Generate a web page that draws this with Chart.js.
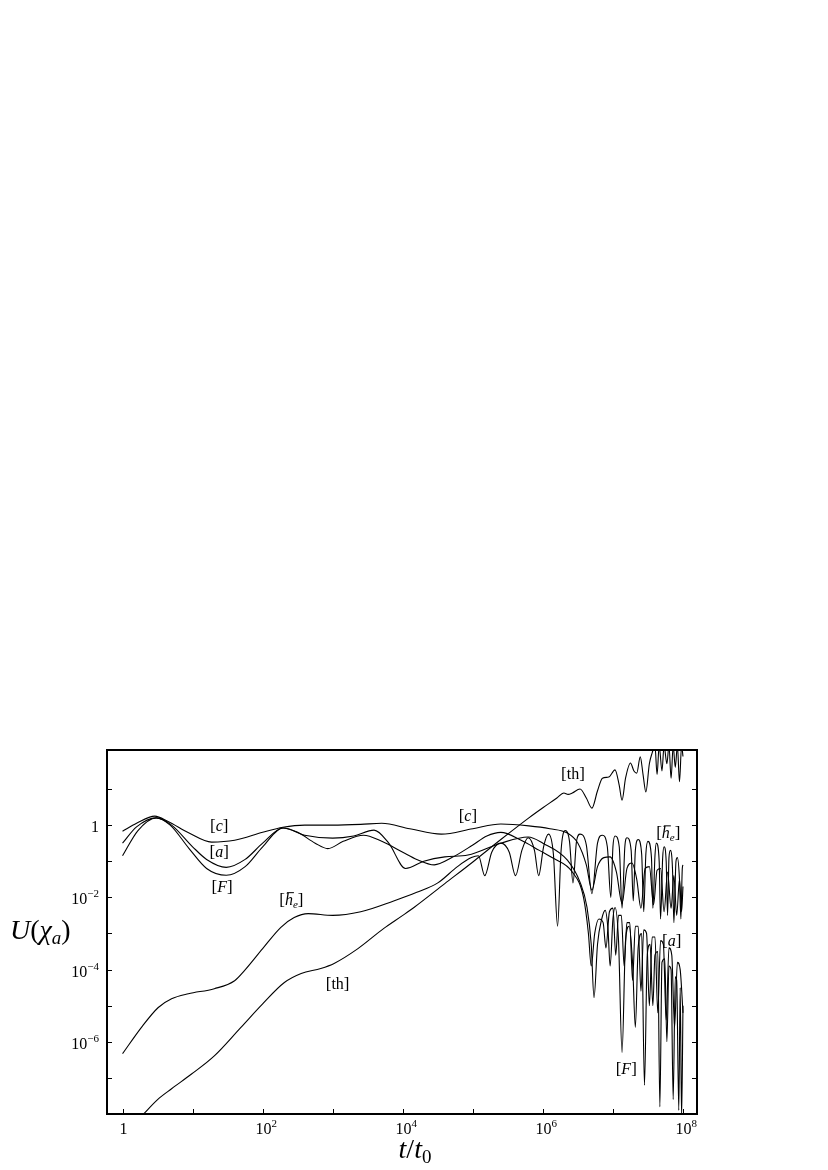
<!DOCTYPE html>
<html>
<head>
<meta charset="utf-8">
<script src="https://cdn.jsdelivr.net/npm/chart.js@4.4.0/dist/chart.umd.min.js"></script>
<style>
    html, body { margin: 0; padding: 0; background: #fff; }
    canvas { display: block; }
</style>
</head>
<body>
<canvas id="uChart" width="828" height="1170"></canvas>
<script>
// Each curve: [log10(t/t0), log10 U(chi_a)] pairs
const cCurve = [
    [0, -0.17], [0.2, 0.05], [0.46, 0.25], [0.65, 0.1], [0.95, -0.22], [1.27, -0.47], [1.6, -0.42],
    [2.0, -0.2], [2.29, -0.06], [2.6, 0], [3.0, 0], [3.4, 0.02], [3.7, 0.05], [4.1, -0.1], [4.55, -0.25],
    [5.0, -0.1], [5.4, 0.03], [5.8, -0.02], [6.1, -0.1], [6.35, -0.22], [6.5, -0.5], [6.62, -1.1],
    [6.7, -1.8], [6.78, -1.15], [6.87, -0.9], [6.96, -0.88], [7.05, -1.3], [7.13, -2.17], [7.2, -1.2],
    [7.27, -1.05], [7.34, -1.5], [7.4, -2.3], [7.46, -1.2], [7.52, -1.15], [7.58, -2.2], [7.63, -1.25],
    [7.68, -1.2], [7.73, -2.4], [7.78, -1.3], [7.83, -2.3], [7.87, -1.4], [7.91, -2.5], [7.95, -1.5],
    [7.98, -2.4], [8.0, -1.7]
];
const aCurve = [
    [0, -0.5], [0.2, -0.05], [0.48, 0.2], [0.7, 0.0], [1.0, -0.6], [1.2, -0.95], [1.48, -1.17],
    [1.75, -0.95], [2.0, -0.5], [2.29, -0.08], [2.5, -0.2], [2.75, -0.5], [2.93, -0.65], [3.15, -0.45],
    [3.44, -0.28], [3.7, -0.45], [4.0, -0.75], [4.2, -0.95], [4.45, -1.1], [4.7, -0.9], [5.0, -0.55],
    [5.2, -0.3], [5.4, -0.2], [5.69, -0.42], [5.95, -0.7], [6.15, -0.92], [6.42, -1.3], [6.58, -2.0],
    [6.65, -3.0], [6.69, -3.9], [6.74, -3.0], [6.8, -2.6], [6.86, -2.7], [6.9, -3.4], [6.95, -2.4],
    [7.0, -2.3], [7.04, -3.6], [7.08, -2.5], [7.12, -2.5], [7.16, -3.9], [7.2, -2.7], [7.24, -2.7],
    [7.28, -4.3], [7.32, -2.8], [7.36, -2.8], [7.4, -4.6], [7.44, -2.9], [7.48, -3.0], [7.52, -5.0],
    [7.56, -3.1], [7.6, -3.1], [7.64, -5.2], [7.68, -3.2], [7.72, -3.3], [7.76, -5.4], [7.8, -3.4],
    [7.84, -3.6], [7.88, -5.6], [7.92, -3.8], [7.96, -4.0], [8.0, -5.2]
];
const fCurve = [
    [0, -0.85], [0.22, -0.15], [0.48, 0.2], [0.68, 0.0], [0.95, -0.65], [1.2, -1.2], [1.48, -1.39],
    [1.75, -1.15], [2.0, -0.6], [2.29, -0.08], [2.6, -0.28], [3.0, -0.36], [3.3, -0.3], [3.59, -0.14],
    [3.8, -0.5], [4.04, -1.2], [4.3, -1.0], [4.6, -0.88], [4.93, -0.83], [5.4, -0.5], [5.79, -0.33],
    [6.0, -0.5], [6.35, -0.97], [6.53, -1.58], [6.63, -2.28], [6.69, -3.3], [6.73, -4.78], [6.78, -3.3],
    [6.84, -2.6], [6.89, -2.36], [6.93, -2.9], [6.96, -3.9], [7.0, -2.6], [7.03, -2.28], [7.08, -3.2],
    [7.13, -6.3], [7.18, -3.2], [7.23, -2.8], [7.28, -3.8], [7.32, -5.6], [7.36, -3.4], [7.41, -3.0],
    [7.45, -7.2], [7.49, -3.6], [7.53, -3.3], [7.57, -5.0], [7.6, -3.6], [7.64, -3.5], [7.67, -7.8],
    [7.7, -3.8], [7.74, -3.7], [7.77, -6.0], [7.8, -3.9], [7.83, -4.0], [7.86, -7.6], [7.89, -4.2],
    [7.91, -4.3], [7.94, -7.9], [7.96, -4.5], [7.98, -8.1], [8.0, -5.0]
];
const heCurve = [
    [0, -6.33], [0.27, -5.6], [0.51, -5.05], [0.7, -4.81], [0.94, -4.67], [1.31, -4.53], [1.6, -4.31],
    [1.74, -4.03], [2.0, -3.42], [2.26, -2.83], [2.45, -2.56], [2.65, -2.45], [3.0, -2.5], [3.4, -2.4],
    [3.87, -2.1], [4.2, -1.86], [4.5, -1.6], [4.78, -1.15], [4.98, -0.9], [5.08, -0.85], [5.17, -1.4],
    [5.27, -0.75], [5.4, -0.5], [5.52, -0.75], [5.61, -1.4], [5.7, -0.7], [5.79, -0.35], [5.88, -0.7],
    [5.94, -1.4], [6.01, -0.6], [6.08, -0.25], [6.15, -0.8], [6.21, -2.8], [6.26, -0.7], [6.32, -0.15],
    [6.38, -0.45], [6.43, -1.6], [6.48, -0.45], [6.53, -0.25], [6.62, -0.55], [6.7, -1.9], [6.78, -0.5],
    [6.85, -0.28], [6.92, -0.6], [6.97, -2.0], [7.0, -0.6], [7.03, -0.3], [7.09, -0.6], [7.13, -2.3],
    [7.17, -0.6], [7.2, -0.35], [7.26, -0.7], [7.29, -2.1], [7.32, -0.7], [7.36, -0.4], [7.41, -0.8],
    [7.44, -2.4], [7.47, -0.8], [7.5, -0.45], [7.55, -0.9], [7.57, -2.3], [7.6, -0.85], [7.62, -0.5],
    [7.66, -1.0], [7.68, -2.6], [7.71, -0.9], [7.73, -0.6], [7.76, -1.0], [7.78, -2.5], [7.8, -0.9],
    [7.82, -0.7], [7.85, -1.2], [7.87, -2.7], [7.9, -1.0], [7.92, -0.9], [7.95, -1.5], [7.97, -2.6],
    [7.99, -1.2], [8.0, -1.1]
];
const thCurve = [
    [0.29, -8.02], [0.5, -7.6], [0.7, -7.3], [0.98, -6.9], [1.31, -6.39], [1.69, -5.6], [2.0, -4.95],
    [2.31, -4.36], [2.55, -4.11], [2.83, -3.97], [3.02, -3.83], [3.36, -3.42], [3.73, -2.86], [4.0, -2.5],
    [4.16, -2.28], [4.6, -1.62], [5.0, -1.02], [5.4, -0.4], [5.8, 0.2], [6.0, 0.48], [6.2, 0.75],
    [6.3, 0.89], [6.36, 0.85], [6.42, 0.89], [6.53, 1.0], [6.62, 0.75], [6.7, 0.47], [6.78, 0.95],
    [6.85, 1.3], [6.94, 1.33], [7.03, 1.53], [7.09, 1.1], [7.13, 0.69], [7.18, 1.3], [7.25, 1.72],
    [7.3, 1.5], [7.34, 1.44], [7.39, 1.89], [7.43, 1.4], [7.47, 0.92], [7.52, 1.7], [7.56, 2.0],
    [7.6, 2.2], [7.63, 1.4], [7.66, 2.2], [7.7, 1.5], [7.73, 2.2], [7.77, 1.7], [7.8, 2.2], [7.83, 1.3],
    [7.86, 2.2], [7.89, 1.6], [7.92, 2.2], [7.95, 1.2], [7.98, 2.2], [8.0, 1.9]
];

// decades with a tick mark, and the label shown at each ('' = mark only)
const xTickExps = [0, 1, 2, 3, 4, 5, 6, 7, 8];
const xTickLabels = ['1', '', '10^2', '', '10^4', '', '10^6', '', '10^8'];
const yTickExps = [-7, -6, -5, -4, -3, -2, -1, 0, 1];
const yTickLabels = ['', '10^-6', '', '10^-4', '', '10^-2', '', '1', ''];

// curve names placed at [log10 t, log10 U]
const curveLabels = [
    { name: 'c', at: [1.38, 0.0] },
    { name: 'a', at: [1.38, -0.72] },
    { name: 'F', at: [1.42, -1.68] },
    { name: 'he', at: [2.41, -2.05] },
    { name: 'th', at: [3.07, -4.36] },
    { name: 'c', at: [4.93, 0.28] },
    { name: 'th', at: [6.43, 1.44] },
    { name: 'he', at: [7.79, -0.2] },
    { name: 'a', at: [7.84, -3.17] },
    { name: 'F', at: [7.19, -6.72] }
];

const SERIF = '"Liberation Serif", "DejaVu Serif", serif';

function toPoints(curve) {
    return curve.map(p => ({ x: Math.pow(10, p[0]), y: Math.pow(10, p[1]) }));
}

// draw a run of text pieces (upright / italic / sub / sup) starting at x
function drawParts(ctx, parts, x, y, align) {
    const widths = parts.map(p => {
        ctx.font = (p.italic ? 'italic ' : '') + p.size + 'px ' + SERIF;
        return ctx.measureText(p.text).width;
    });
    const total = widths.reduce((s, w) => s + w, 0);
    let cx = x;
    if (align === 'center') cx = x - total / 2;
    if (align === 'right') cx = x - total;
    parts.forEach((p, i) => {
        ctx.font = (p.italic ? 'italic ' : '') + p.size + 'px ' + SERIF;
        ctx.fillText(p.text, cx, y + (p.dy || 0));
        if (p.bar) {
            ctx.beginPath();
            ctx.lineWidth = 1;
            ctx.moveTo(cx + 2, y - p.size * 0.78);
            ctx.lineTo(cx + widths[i] + 1, y - p.size * 0.78);
            ctx.stroke();
        }
        cx += widths[i];
    });
}

function powerParts(label) {
    if (label.indexOf('^') < 0) return [{ text: label, size: 16 }];
    const bits = label.split('^');
    return [
        { text: bits[0], size: 16 },
        { text: bits[1].replace('-', '\u2212'), size: 11, dy: -7 }
    ];
}

function nameParts(name) {
    const open = { text: '[', size: 17 };
    const close = { text: ']', size: 17 };
    if (name === 'th') return [open, { text: 'th', size: 16 }, close];
    if (name === 'he') {
        return [open, { text: 'h', size: 16, italic: true, bar: true },
            { text: 'e', size: 11, italic: true, dy: 3 }, close];
    }
    return [open, { text: name, size: 16, italic: true }, close];
}

const decorPlugin = {
    id: 'decor',
    afterDraw(chart) {
        const ctx = chart.ctx;
        const area = chart.chartArea;
        const xs = chart.scales.x;
        const ys = chart.scales.y;
        ctx.save();
        ctx.fillStyle = '#000';
        ctx.strokeStyle = '#000';
        ctx.textBaseline = 'alphabetic';

        // inward tick marks and labels, bottom axis
        ctx.lineWidth = 1;
        xTickExps.forEach((e, i) => {
            const px = Math.round(xs.getPixelForValue(Math.pow(10, e))) + 0.5;
            ctx.beginPath();
            ctx.moveTo(px, area.bottom);
            ctx.lineTo(px, area.bottom - 5);
            ctx.stroke();
            const lab = xTickLabels[i];
            if (!lab) return;
            const parts = powerParts(lab);
            ctx.font = '16px ' + SERIF;
            const baseW = ctx.measureText(parts[0].text).width;
            drawParts(ctx, parts, px - baseW / 2, area.bottom + 20, 'left');
        });

        // left and right axes
        yTickExps.forEach((e, i) => {
            const py = Math.round(ys.getPixelForValue(Math.pow(10, e))) + 0.5;
            ctx.lineWidth = 1;
            ctx.beginPath();
            ctx.moveTo(area.left, py);
            ctx.lineTo(area.left + 5, py);
            ctx.moveTo(area.right, py);
            ctx.lineTo(area.right - 5, py);
            ctx.stroke();
            const lab = yTickLabels[i];
            if (!lab) return;
            drawParts(ctx, powerParts(lab), area.left - 8, py + 6, 'right');
        });

        // curve names
        curveLabels.forEach(l => {
            const px = xs.getPixelForValue(Math.pow(10, l.at[0]));
            const py = ys.getPixelForValue(Math.pow(10, l.at[1]));
            drawParts(ctx, nameParts(l.name), px, py + 6, 'center');
        });

        // axis titles
        drawParts(ctx, [
            { text: 'U', size: 28, italic: true },
            { text: '(', size: 28 },
            { text: '\u03C7', size: 28, italic: true },
            { text: 'a', size: 19, italic: true, dy: 5 },
            { text: ')', size: 28 }
        ], 10, 939, 'left');
        drawParts(ctx, [
            { text: 't', size: 28, italic: true },
            { text: '/', size: 28 },
            { text: 't', size: 28, italic: true },
            { text: '0', size: 19, dy: 5 }
        ], 415, 1158, 'center');

        // frame
        ctx.lineWidth = 2;
        ctx.strokeRect(area.left, area.top, area.right - area.left, area.bottom - area.top);
        ctx.restore();
    }
};

function createChart() {
    const ctx = document.getElementById('uChart').getContext('2d');
    const curves = [cCurve, aCurve, fCurve, heCurve, thCurve];

    new Chart(ctx, {
        type: 'line',
        data: {
            datasets: curves.map(c => ({
                data: toPoints(c),
                borderColor: '#000',
                borderWidth: 1.1,
                pointRadius: 0,
                fill: false,
                cubicInterpolationMode: 'monotone'
            }))
        },
        options: {
            responsive: false,
            animation: false,
            layout: { padding: { top: 750, right: 131, left: 0, bottom: 0 } },
            plugins: {
                legend: { display: false },
                tooltip: { enabled: false }
            },
            scales: {
                x: {
                    type: 'logarithmic',
                    min: Math.pow(10, -0.2),
                    max: Math.pow(10, 8.2),
                    grid: { display: false, drawTicks: false },
                    border: { display: false },
                    ticks: { display: false },
                    afterFit: s => { s.height = 56; }
                },
                y: {
                    type: 'logarithmic',
                    min: 1e-8,
                    max: Math.pow(10, 2.08),
                    grid: { display: false, drawTicks: false },
                    border: { display: false },
                    ticks: { display: false },
                    afterFit: s => { s.width = 107; }
                }
            }
        },
        plugins: [decorPlugin]
    });
}

createChart();
</script>
</body>
</html>
